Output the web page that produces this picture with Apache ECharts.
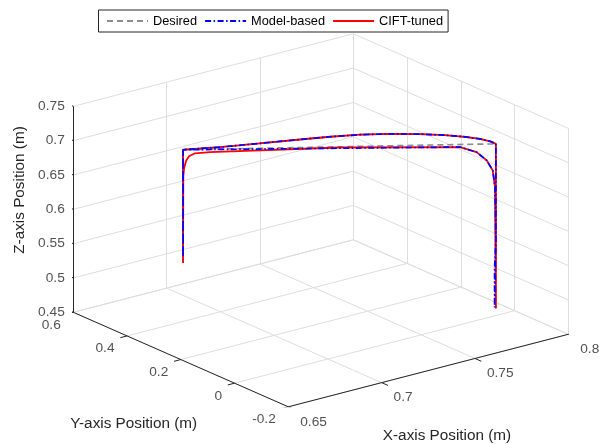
<!DOCTYPE html>
<html><head><meta charset="utf-8">
<script src="https://cdn.jsdelivr.net/npm/echarts@6/dist/echarts.min.js"></script>
<style>html,body{margin:0;padding:0;background:#fff}#c{width:599px;height:444px}</style>
</head><body><div id="c"></div>
<script>
// ---- axes ----
const X_RANGE = [0.65, 0.8];
const Y_RANGE = [-0.2, 0.6];
const Z_RANGE = [0.45, 0.75];
const X_TICKS = [0.65, 0.7, 0.75, 0.8];
const X_LABELS = ['0.65', '0.7', '0.75', '0.8'];
const Y_TICKS = [-0.2, 0, 0.2, 0.4, 0.6];
const Y_LABELS = ['-0.2', '0', '0.2', '0.4', '0.6'];
const Z_TICKS = [0.45, 0.5, 0.55, 0.6, 0.65, 0.7, 0.75];
const Z_LABELS = ['0.45', '0.5', '0.55', '0.6', '0.65', '0.7', '0.75'];
const SERIES_NAMES = ['Desired', 'Model-based', 'CIFT-tuned'];

// ---- trajectories (x, y, z in m) ----
const desiredX = [0.68, 0.68, 0.6945, 0.7109, 0.7273, 0.7395, 0.7512, 0.7620, 0.7719, 0.7795, 0.7850, 0.7884, 0.7900, 0.79, 0.79, 0.79, 0.68, 0.68];
const desiredY = [0.40, 0.40, 0.3630, 0.3282, 0.2934, 0.2666, 0.2361, 0.1992, 0.1565, 0.1164, 0.0801, 0.0480, 0.0218, 0.00, 0.00, 0.00, 0.40, 0.40];
const desiredZ = [0.535, 0.70, 0.70, 0.70, 0.70, 0.70, 0.70, 0.70, 0.70, 0.70, 0.70, 0.70, 0.70, 0.70, 0.46, 0.70, 0.70, 0.535];

const modelX = [0.68, 0.68, 0.6945, 0.7109, 0.7273, 0.7395, 0.7512, 0.7620, 0.7719, 0.7795, 0.7850, 0.7884, 0.7900, 0.79, 0.79, 0.7893, 0.7893, 0.79, 0.7897, 0.7889, 0.7868, 0.7832, 0.7774, 0.68, 0.68];
const modelY = [0.40, 0.40, 0.3630, 0.3282, 0.2934, 0.2666, 0.2361, 0.1992, 0.1565, 0.1164, 0.0801, 0.0480, 0.0218, 0.00, 0.00, 0.00, 0.00, 0.00, 0.0012, 0.0041, 0.0118, 0.0246, 0.0459, 0.40, 0.40];
const modelZ = [0.545, 0.70, 0.70, 0.70, 0.70, 0.70, 0.70, 0.70, 0.70, 0.70, 0.70, 0.70, 0.70, 0.70, 0.56, 0.52, 0.462, 0.56, 0.637, 0.6614, 0.6761, 0.6885, 0.6963, 0.70, 0.545];

const ciftX = [0.68, 0.68, 0.6945, 0.7109, 0.7273, 0.7395, 0.7512, 0.7620, 0.7719, 0.7795, 0.7850, 0.7884, 0.7900, 0.79, 0.79, 0.7897, 0.7889, 0.7868, 0.7832, 0.7774, 0.7350, 0.6895, 0.6842, 0.6821, 0.6811, 0.6804, 0.6801, 0.68];
const ciftY = [0.40, 0.40, 0.3630, 0.3282, 0.2934, 0.2666, 0.2361, 0.1992, 0.1565, 0.1164, 0.0801, 0.0480, 0.0218, 0.00, 0.00, 0.0012, 0.0041, 0.0118, 0.0246, 0.0459, 0.2000, 0.3655, 0.3847, 0.3923, 0.3962, 0.3987, 0.3998, 0.40];
const ciftZ = [0.535, 0.70, 0.70, 0.70, 0.70, 0.70, 0.70, 0.70, 0.70, 0.70, 0.70, 0.70, 0.70, 0.70, 0.461, 0.637, 0.6614, 0.6761, 0.6885, 0.6963, 0.699, 0.6958, 0.6945, 0.6903, 0.6839, 0.6738, 0.6607, 0.535];

// ---- view (orthographic projection of the normalised plot box) ----
const VIEW = { x: [280, 72.5], y: [-215, 94.5], z: [0, 206] };
const SCREEN_X = [-215, 280], SCREEN_Y = [0, 373];

function proj(x, y, z) {
  const nx = (x - X_RANGE[0]) / (X_RANGE[1] - X_RANGE[0]);
  const ny = (y - Y_RANGE[0]) / (Y_RANGE[1] - Y_RANGE[0]);
  const nz = (z - Z_RANGE[0]) / (Z_RANGE[1] - Z_RANGE[0]);
  return [VIEW.x[0] * nx + VIEW.y[0] * ny + VIEW.z[0] * nz,
          VIEW.x[1] * nx + VIEW.y[1] * ny + VIEW.z[1] * nz];
}
function path(xs, ys, zs) { return xs.map((v, i) => proj(v, ys[i], zs[i])); }
function unit(v, s) { const l = Math.hypot(v[0], v[1]); return [v[0] / l * s, v[1] / l * s]; }

// grid lines on the three back planes
const gridSegs = [];
const [x0, x1] = X_RANGE, [y0, y1] = Y_RANGE, [z0, z1] = Z_RANGE;
X_TICKS.forEach(t => { gridSegs.push([proj(t, y0, z0), proj(t, y1, z0)]); gridSegs.push([proj(t, y1, z0), proj(t, y1, z1)]); });
Y_TICKS.forEach(t => { gridSegs.push([proj(x0, t, z0), proj(x1, t, z0)]); gridSegs.push([proj(x1, t, z0), proj(x1, t, z1)]); });
Z_TICKS.forEach(t => { gridSegs.push([proj(x0, y1, t), proj(x1, y1, t)]); gridSegs.push([proj(x1, y0, t), proj(x1, y1, t)]); });

// axis lines and ticks
const axisSegs = [
  [proj(x0, y0, z0), proj(x0, y1, z0)],
  [proj(x0, y0, z0), proj(x1, y0, z0)],
  [proj(x0, y1, z0), proj(x0, y1, z1)]
];
const tz = unit(VIEW.y, 5.5), ty = unit([-VIEW.x[0], -VIEW.x[1]], 7), tx = unit([-VIEW.y[0], -VIEW.y[1]], 7);
const xTickPts = X_TICKS.map(t => proj(t, y0, z0));
const yTickPts = Y_TICKS.map(t => proj(x0, t, z0));
const zTickPts = Z_TICKS.map(t => proj(x0, y1, t));
xTickPts.forEach(p => axisSegs.push([p, [p[0] + tx[0], p[1] + tx[1]]]));
yTickPts.forEach(p => axisSegs.push([p, [p[0] + ty[0], p[1] + ty[1]]]));
zTickPts.forEach(p => axisSegs.push([p, [p[0] + tz[0], p[1] + tz[1]]]));

const FONT = 'Liberation Sans, Arial, Helvetica, sans-serif';
const AX = '#262626';
function tickLabels(pts, labels, align, offset) {
  return {
    type: 'scatter', data: pts, symbol: 'circle', symbolSize: 0.1, silent: true, z: 6,
    itemStyle: { color: 'rgba(0,0,0,0)' },
    label: { show: true, position: [0, 0], align: align, verticalAlign: 'middle', offset: offset,
      formatter: p => labels[p.dataIndex], color: AX, fontFamily: FONT, fontSize: 13.7 }
  };
}

const chart = echarts.init(document.getElementById('c'), null, { renderer: 'canvas' });
chart.setOption({
  animation: false,
  backgroundColor: '#fff',
  grid: { left: 73.3, top: 33.8, width: 495, height: 373 },
  xAxis: { type: 'value', min: SCREEN_X[0], max: SCREEN_X[1], show: false },
  yAxis: { type: 'value', min: SCREEN_Y[0], max: SCREEN_Y[1], show: false },
  legend: {
    data: SERIES_NAMES, left: 98.5, top: 10, orient: 'horizontal', selectedMode: false,
    itemWidth: 41, itemHeight: 10, itemGap: 7, padding: [4, 5, 4, 7.5],
    borderColor: AX, borderWidth: 1, borderRadius: 0, backgroundColor: '#fff',
    itemStyle: { opacity: 0 },
    textStyle: { fontFamily: FONT, fontSize: 12.8, color: '#000', lineHeight: 14 }
  },
  graphic: [
    { type: 'text', x: 20, y: 190, rotation: Math.PI / 2, style: { text: 'Z-axis Position (m)', fill: AX, font: '15.3px ' + FONT, align: 'center', verticalAlign: 'middle' } },
    { type: 'text', x: 133.7, y: 424, style: { text: 'Y-axis Position (m)', fill: AX, font: '15.3px ' + FONT, align: 'center', verticalAlign: 'middle' } },
    { type: 'text', x: 447, y: 436, style: { text: 'X-axis Position (m)', fill: AX, font: '15.3px ' + FONT, align: 'center', verticalAlign: 'middle' } }
  ],
  series: [
    { type: 'lines', coordinateSystem: 'cartesian2d', silent: true, z: 1,
      data: gridSegs.map(c => ({ coords: c })), lineStyle: { color: '#dedede', width: 1, opacity: 1 } },
    { type: 'lines', coordinateSystem: 'cartesian2d', silent: true, z: 2,
      data: axisSegs.map(c => ({ coords: c })), lineStyle: { color: AX, width: 1, opacity: 1 } },
    tickLabels(xTickPts, X_LABELS, 'left', [12, 15]),
    tickLabels(yTickPts, Y_LABELS, 'right', [-12.5, 12.8]),
    tickLabels(zTickPts, Z_LABELS, 'right', [-8.5, 0]),
    { name: SERIES_NAMES[0], type: 'line', data: path(desiredX, desiredY, desiredZ), symbol: 'none', clip: false, silent: true, z: 3,
      color: '#8c8c8c', lineStyle: { color: '#8c8c8c', width: 1.7, type: [6, 4] } },
    { name: SERIES_NAMES[1], type: 'line', data: path(modelX, modelY, modelZ), symbol: 'none', clip: false, silent: true, z: 5,
      color: '#0000ff', lineStyle: { color: '#0000ff', width: 1.7, type: [6, 2.5, 1.5, 2.5] } },
    { name: SERIES_NAMES[2], type: 'line', data: path(ciftX, ciftY, ciftZ), symbol: 'none', clip: false, silent: true, z: 4,
      color: '#ff0000', lineStyle: { color: '#ff0000', width: 1.8 } }
  ]
});
</script></body></html>
